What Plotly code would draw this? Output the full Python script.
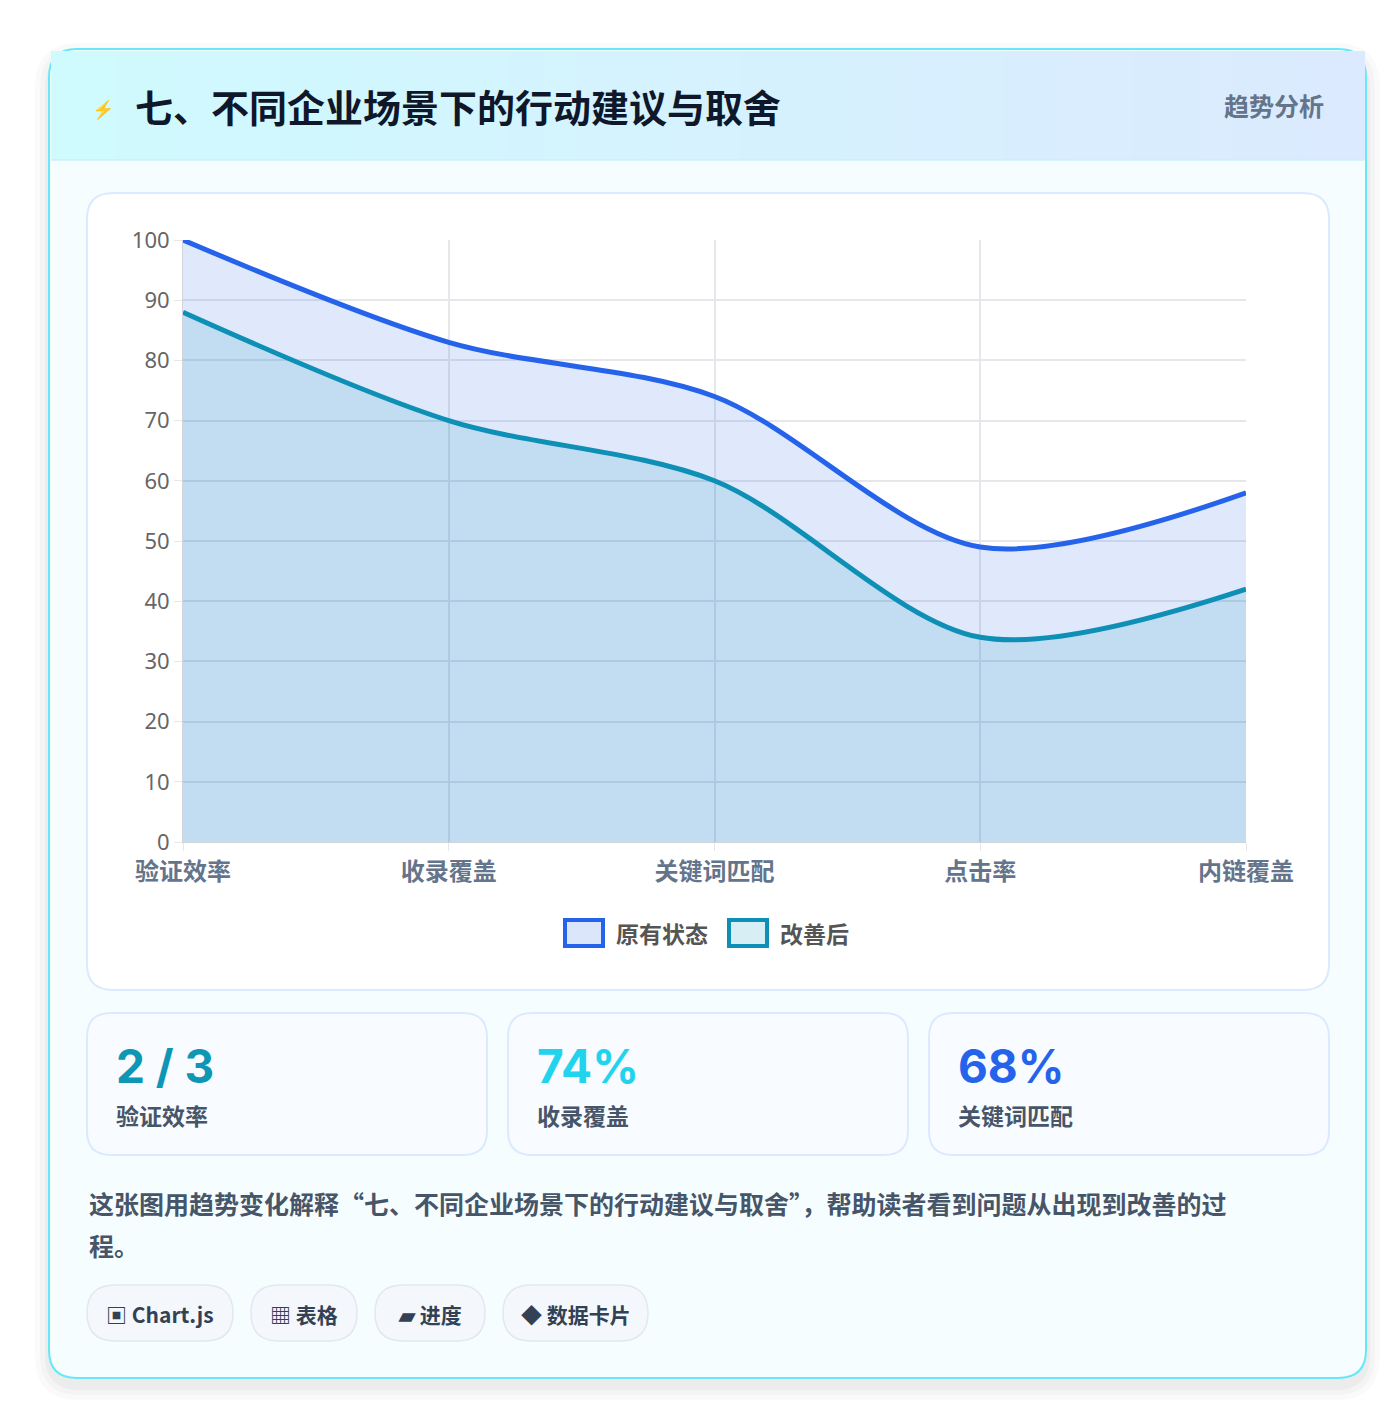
import plotly.graph_objects as go

W, H = 1400, 1412
categories = ["验证效率", "收录覆盖", "关键词匹配", "点击率", "内链覆盖"]
before = [100, 83, 74, 49, 58]
after = [88, 70, 60, 34, 42]
stat_values = ["2 / 3", "74%", "68%"]
stat_labels = ["验证效率", "收录覆盖", "关键词匹配"]
stat_colors = ["#0e97b5", "#22d3ee", "#2563eb"]
tags = ["▣ Chart.js", "▦ 表格", "▰ 进度", "◆ 数据卡片"]

FONT = "Noto Sans CJK SC"


def px(x):
    return x / W


def py(y):
    return 1 - y / H


def rect(x0, y0, x1, y1, fill):
    return dict(type="rect", xref="paper", yref="paper",
                x0=px(x0), x1=px(x1), y0=py(y1), y1=py(y0),
                fillcolor=fill, line=dict(width=0), layer="below")


def rrect(x0, y0, x1, y1, r, fill, line=None, lw=1.5, layer="below"):
    X0, X1, Y0, Y1 = px(x0), px(x1), py(y1), py(y0)
    rx, ry = r / W, r / H
    path = (f"M{X0+rx},{Y0} L{X1-rx},{Y0} Q{X1},{Y0} {X1},{Y0+ry} "
            f"L{X1},{Y1-ry} Q{X1},{Y1} {X1-rx},{Y1} L{X0+rx},{Y1} "
            f"Q{X0},{Y1} {X0},{Y1-ry} L{X0},{Y0+ry} Q{X0},{Y0} {X0+rx},{Y0} Z")
    return dict(type="path", xref="paper", yref="paper", path=path,
                fillcolor=fill, line=dict(color=line or fill, width=lw if line else 0),
                layer=layer)


def text(x, y, s, size, color, anchor="left", family=FONT):
    return dict(x=px(x), y=py(y), xref="paper", yref="paper", text=s, showarrow=False,
                xanchor=anchor, yanchor="middle", font=dict(size=size, color=color, family=family))


fig = go.Figure()
fig.add_trace(go.Scatter(x=categories, y=before, mode="lines", name="原有状态",
                         line=dict(color="#2563eb", width=5, shape="spline", smoothing=0.9),
                         fill="tozeroy", fillcolor="rgba(37,99,235,0.14)"))
fig.add_trace(go.Scatter(x=categories, y=after, mode="lines", name="改善后",
                         line=dict(color="#0e8fb5", width=5, shape="spline", smoothing=0.9),
                         fill="tozeroy", fillcolor="rgba(14,143,181,0.14)"))

shapes = []
for i, a in enumerate([0.02, 0.025, 0.03]):
    d = 14 - i * 5
    shapes.append(rrect(41 - d, 41 - d + 8, 1358 + d, 1370 + d + 8, 30 + d, f"rgba(0,0,0,{a})"))
shapes.append(rrect(41, 41, 1358, 1370, 28, "#f6fdff", "#67e8f9", 2))
n = 40
c0, c1 = (207, 250, 254), (219, 234, 254)
for i in range(n):
    t = i / (n - 1)
    c = tuple(round(c0[k] + (c1[k] - c0[k]) * t) for k in range(3))
    x0 = 43 + (1356 - 43) * i / n
    x1 = 43 + (1356 - 43) * (i + 1) / n + 1
    shapes.append(rect(x0, 43, x1, 152, f"rgb{c}"))
shapes.append(dict(type="line", xref="paper", yref="paper", x0=px(43), x1=px(1356),
                   y0=py(152), y1=py(152), line=dict(color="#cdeefa", width=1.5)))
shapes.append(rrect(79, 185, 1321, 982, 26, "#ffffff", "#dbeafe", 2))
for i in range(3):
    x0 = 79 + i * 421
    shapes.append(rrect(x0, 1005, x0 + 400, 1147, 24, "#f8fbff", "#dbeafe", 2))
shapes.append(dict(type="rect", xref="paper", yref="paper", x0=px(557), x1=px(595),
                   y0=py(938), y1=py(912), fillcolor="#dbe6fb",
                   line=dict(color="#2563eb", width=4)))
shapes.append(dict(type="rect", xref="paper", yref="paper", x0=px(721), x1=px(759),
                   y0=py(938), y1=py(912), fillcolor="#d7eef4",
                   line=dict(color="#0e8fb5", width=4)))
tag_x = [(79, 225), (243, 349), (367, 477), (495, 640)]
for x0, x1 in tag_x:
    shapes.append(rrect(x0, 1277, x1, 1333, 28, "#f4f8fc", "#e2e8f0", 1.5))

ann = []
ann.append(text(95, 100, "⚡", 18, "#2563eb", "center"))
ann.append(text(125, 98, "<b>七、不同企业场景下的行动建议与取舍</b>", 38, "#0f172a"))
ann.append(text(1318, 97, "<b>趋势分析</b>", 25, "#64748b", "right"))
ann.append(text(606, 925, "<b>原有状态</b>", 23, "#555555"))
ann.append(text(770, 925, "<b>改善后</b>", 23, "#555555"))
for i in range(3):
    x0 = 79 + i * 421
    ann.append(text(x0 + 27, 1058, f"<b>{stat_values[i]}</b>", 46, stat_colors[i], family="Inter"))
    ann.append(text(x0 + 27, 1107, f"<b>{stat_labels[i]}</b>", 23, "#475569"))
ann.append(text(79, 1195, "<b>这张图用趋势变化解释“七、不同企业场景下的行动建议与取舍”，帮助读者看到问题从出现到改善的过</b>",
                25, "#475569"))
ann.append(text(79, 1237, "<b>程。</b>", 25, "#475569"))
for (x0, x1), t in zip(tag_x, tags):
    ann.append(text((x0 + x1) / 2, 1306, f"<b>{t}</b>", 21, "#334155", "center"))

fig.update_layout(
    width=W, height=H, margin=dict(l=0, r=0, t=0, b=0, autoexpand=False),
    paper_bgcolor="#ffffff", plot_bgcolor="rgba(0,0,0,0)",
    showlegend=False, shapes=shapes, annotations=ann,
    xaxis=dict(domain=[px(175), px(1238)], type="category", range=[0, 4],
               tickvals=categories, ticktext=[f"<b>{c}</b>" for c in categories],
               showgrid=True, gridcolor="#e5e7eb", gridwidth=1.5,
               showline=True, linecolor="#d1d5db", zeroline=False,
               ticks="outside", ticklen=8, tickcolor="#e5e7eb",
               tickfont=dict(size=24, color="#64748b", family=FONT)),
    yaxis=dict(domain=[py(834), py(232)], range=[0, 100], dtick=10, showgrid=True,
               gridcolor="#e5e7eb", gridwidth=1.5, showline=True, linecolor="#d1d5db",
               zeroline=False, ticks="outside", ticklen=8, tickcolor="#e5e7eb",
               tickfont=dict(size=22, color="#666666", family="Noto Sans")),
)
fig.write_html("out.html")
